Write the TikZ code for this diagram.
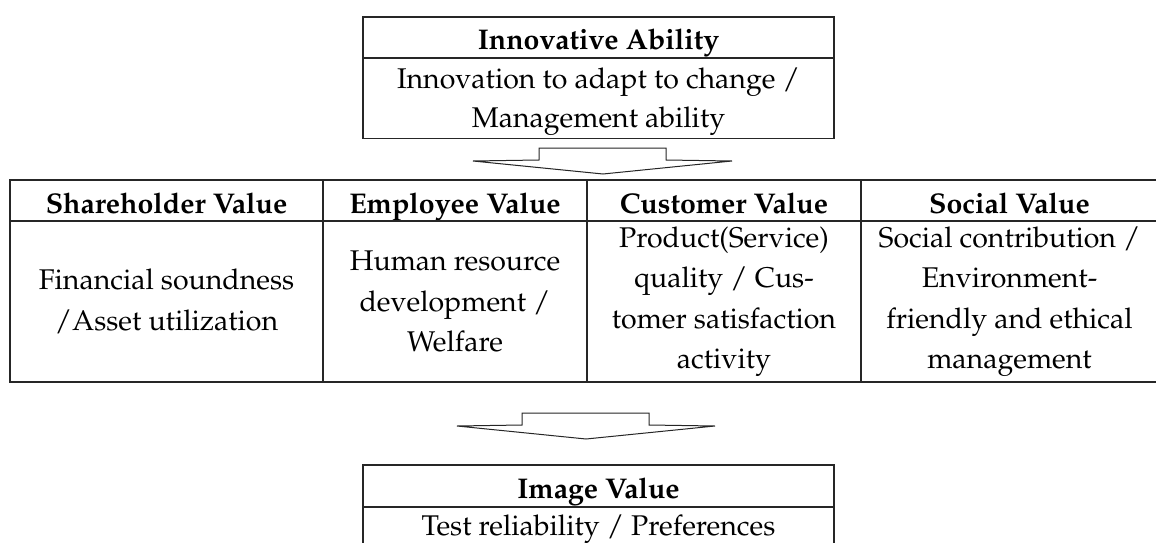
\documentclass[tikz,border=0pt]{standalone}
\usepackage[T1]{fontenc}
\usepackage{mathpazo}
\begin{document}
\begin{tikzpicture}[x=1pt,y=-1pt,
  cell/.style={draw=black!85, line width=1.3pt, inner sep=0pt, align=center,
    font=\fontsize{28.5}{40.5}\selectfont},
  txt/.style={inner sep=0pt, align=center, font=\fontsize{28.5}{39}\selectfont},
  hdr/.style={cell, minimum height=41pt, text height=29pt, text depth=4pt,
    font=\fontsize{28.5}{40.5}\selectfont\bfseries},
  blockarrow/.style={draw=black!85, line width=1pt, fill=white, line join=miter}]
\useasboundingbox (0,0) rectangle (1156,543);
% top box
\node[hdr, minimum width=471pt] (ia) at (598.5,37.5) {Innovative Ability};
\node[cell, minimum width=471pt, minimum height=81pt] (iab) at (598.5,98) {};
\node[txt] (iabt) at (598.5,102) {Innovation to adapt to change /\\Management ability};
% table header
\node[hdr, minimum width=313pt] (sh) at (166.5,200.5) {Shareholder Value};
\node[hdr, minimum width=264pt] (em) at (455,200.5) {Employee Value};
\node[hdr, minimum width=274pt] (cu) at (724,200.5) {Customer Value};
\node[hdr, minimum width=297pt] (so) at (1009.5,200.5) {Social Value};
% table body
\node[cell, minimum width=313pt, minimum height=161pt] (shb) at (166.5,301.5)
  {Financial soundness\\/Asset utilization};
\node[cell, minimum width=264pt, minimum height=161pt] (emb) at (455,301.5)
  {Human resource\\development /\\Welfare};
\node[cell, minimum width=274pt, minimum height=161pt] (cub) at (724,301.5)
  {Product(Service)\\quality / Cus-\\tomer satisfaction\\activity};
\node[cell, minimum width=297pt, minimum height=161pt] (sob) at (1009.5,301.5)
  {Social contribution /\\Environment-\\friendly and ethical\\management};
% bottom box
\node[hdr, minimum width=471pt, minimum height=42pt] (iv) at (598.5,486) {Image Value};
\node[cell, minimum width=471pt, minimum height=45pt] (ivb) at (598.5,529.5) {};
\node[txt, anchor=base] (ivbt) at (598.5,535.5) {Test reliability / Preferences};
% block arrows
\coordinate (a1) at (603,148);
\draw[blockarrow] (a1) ++(-64,0) -- ++(127,0) -- ++(0,12) -- ++(66,1)
  -- ++(-129,13) -- ++(-130,-13) -- ++(66,-1) -- cycle;
\coordinate (a2) at (585.5,413);
\draw[blockarrow] (a2) ++(-63.5,0) -- ++(127,0) -- ++(0,12) -- ++(66,1)
  -- ++(-129,13) -- ++(-129,-13) -- ++(65,-1) -- cycle;
\end{tikzpicture}
\end{document}
